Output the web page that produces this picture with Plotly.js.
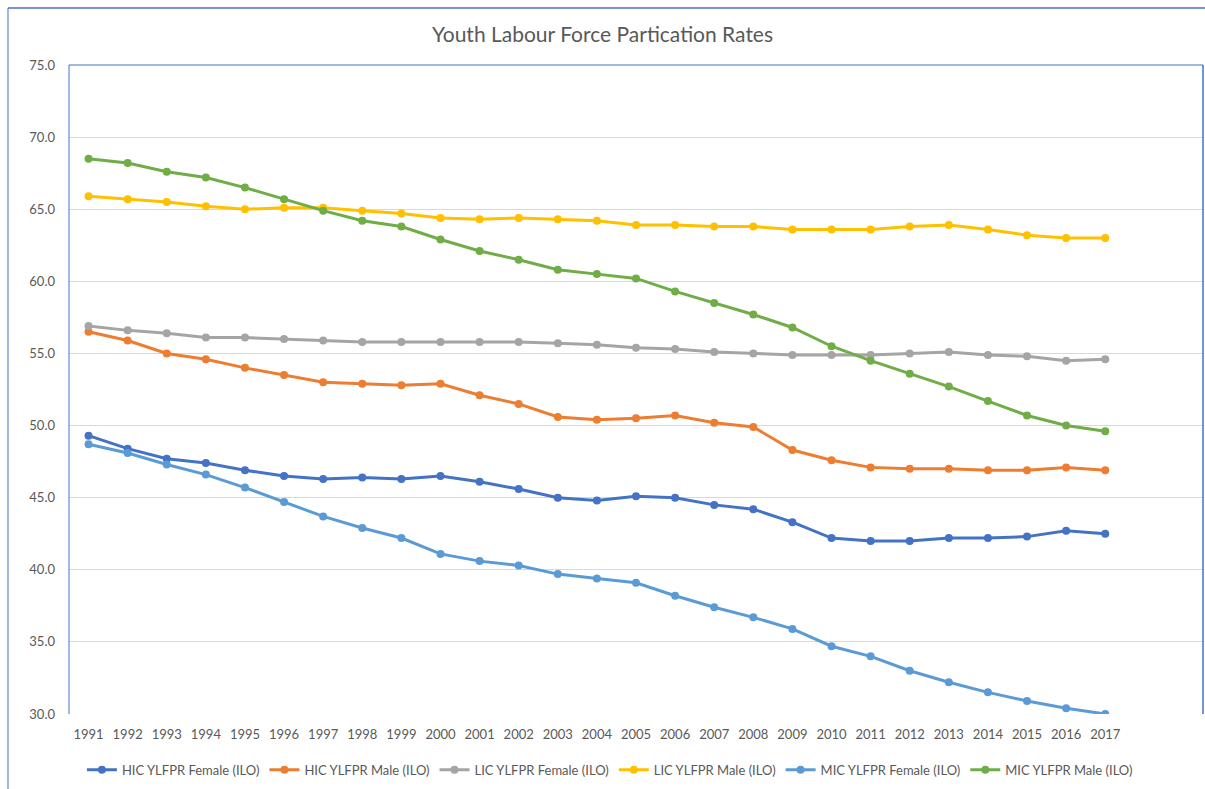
<!DOCTYPE html>
<html>
<head>
<meta charset="utf-8">
<script src="https://cdn.plot.ly/plotly-3.0.1.min.js"></script>
<style>html,body{margin:0;padding:0;background:#fff;}#chart{width:1205px;height:789px;}</style>
</head>
<body>
<div id="chart"></div>
<script>
const years = [1991,1992,1993,1994,1995,1996,1997,1998,1999,2000,2001,2002,2003,2004,2005,2006,2007,2008,2009,2010,2011,2012,2013,2014,2015,2016,2017];
const yearLabels = years.map(String);
const seriesNames = ["HIC YLFPR Female (ILO)","HIC YLFPR Male (ILO)","LIC YLFPR Female (ILO)","LIC YLFPR Male (ILO)","MIC YLFPR Female (ILO)","MIC YLFPR Male (ILO)"];
const hicFemale = [49.3,48.4,47.7,47.4,46.9,46.5,46.3,46.4,46.3,46.5,46.1,45.6,45.0,44.8,45.1,45.0,44.5,44.2,43.3,42.2,42.0,42.0,42.2,42.2,42.3,42.7,42.5];
const hicMale   = [56.5,55.9,55.0,54.6,54.0,53.5,53.0,52.9,52.8,52.9,52.1,51.5,50.6,50.4,50.5,50.7,50.2,49.9,48.3,47.6,47.1,47.0,47.0,46.9,46.9,47.1,46.9];
const licFemale = [56.9,56.6,56.4,56.1,56.1,56.0,55.9,55.8,55.8,55.8,55.8,55.8,55.7,55.6,55.4,55.3,55.1,55.0,54.9,54.9,54.9,55.0,55.1,54.9,54.8,54.5,54.6];
const licMale   = [65.9,65.7,65.5,65.2,65.0,65.1,65.1,64.9,64.7,64.4,64.3,64.4,64.3,64.2,63.9,63.9,63.8,63.8,63.6,63.6,63.6,63.8,63.9,63.6,63.2,63.0,63.0];
const micFemale = [48.7,48.1,47.3,46.6,45.7,44.7,43.7,42.9,42.2,41.1,40.6,40.3,39.7,39.4,39.1,38.2,37.4,36.7,35.9,34.7,34.0,33.0,32.2,31.5,30.9,30.4,30.0];
const micMale   = [68.5,68.2,67.6,67.2,66.5,65.7,64.9,64.2,63.8,62.9,62.1,61.5,60.8,60.5,60.2,59.3,58.5,57.7,56.8,55.5,54.5,53.6,52.7,51.7,50.7,50.0,49.6];
const yTicks = [30,35,40,45,50,55,60,65,70,75];
const colors = ["#4472C4","#ED7D31","#A5A5A5","#FFC000","#5B9BD5","#70AD47"];

const allSeries = [hicFemale, hicMale, licFemale, licMale, micFemale, micMale];
const traces = allSeries.map((vals, i) => ({
  type: "scatter",
  mode: "lines+markers",
  name: seriesNames[i],
  x: years,
  y: vals,
  line: {color: colors[i], width: 3},
  marker: {color: colors[i], size: 8, symbol: "circle"}
}));

const font = "Lato, 'Open Sans', sans-serif";
const border = "#4472C4";
const layout = {
  width: 1205, height: 789,
  paper_bgcolor: "#ffffff", plot_bgcolor: "#ffffff",
  margin: {l: 69, r: 2, t: 65, b: 75, pad: 0},
  font: {family: font, size: 13, color: "#595959"},
  title: {text: "Youth Labour Force Partication Rates", font: {family: font, size: 21, color: "#595959"}, x: 0.5, xanchor: "center", y: 0.956, yanchor: "middle"},
  showlegend: true,
  legend: {orientation: "h", x: 0.477, xanchor: "center", y: -0.086, yanchor: "middle", font: {family: font, size: 13, color: "#595959"}, itemwidth: 30, tracegroupgap: 0},
  xaxis: {
    range: [1990.5, 2019.5], tickvals: years, ticktext: yearLabels,
    showgrid: false, zeroline: false, showline: false, ticks: "",
    tickfont: {family: font, size: 13, color: "#595959"}, ticklabelstandoff: 11, fixedrange: true
  },
  yaxis: {
    range: [30, 75], tickvals: yTicks, tickformat: ".1f",
    showgrid: true, gridcolor: "#D9D9D9", gridwidth: 1, zeroline: false, showline: false, ticks: "",
    tickfont: {family: font, size: 13, color: "#595959"}, ticklabelstandoff: 13, fixedrange: true
  },
  shapes: [
    {type: "line", xref: "paper", yref: "paper", x0: 0, x1: 0, y0: 0, y1: 1, line: {color: border, width: 1}},
    {type: "line", xref: "paper", yref: "paper", x0: 0, x1: 1, y0: 1, y1: 1, line: {color: border, width: 1}},
    {type: "line", xref: "paper", yref: "paper", x0: 1, x1: 1, y0: 0, y1: 1, line: {color: border, width: 1.5}},
    {type: "line", xref: "paper", yref: "paper", x0: -0.0538, x1: 1.1, y0: 1.0878, y1: 1.0878, line: {color: border, width: 1.5}},
    {type: "line", xref: "paper", yref: "paper", x0: -0.0538, x1: -0.0538, y0: -0.2, y1: 1.0878, line: {color: border, width: 1}}
  ]
};

Plotly.newPlot("chart", traces, layout, {displayModeBar: false, staticPlot: true});
</script>
</body>
</html>
